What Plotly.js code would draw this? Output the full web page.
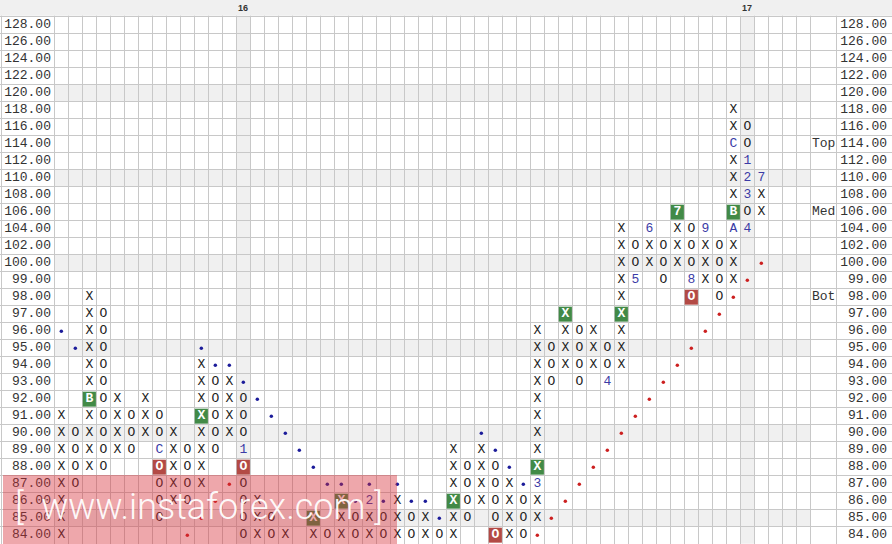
<!DOCTYPE html>
<html><head><meta charset="utf-8">
<script src="https://cdn.plot.ly/plotly-3.0.1.min.js"></script>
<style>html,body{margin:0;padding:0;background:#fff}#chart{width:892px;height:544px}</style>
</head><body><div id="chart"></div>
<script>
// ---- data ----
const rowLabels = ["128.00","126.00","124.00","122.00","120.00","118.00","116.00","114.00","112.00","110.00","108.00","106.00","104.00","102.00","100.00","99.00","98.00","97.00","96.00","95.00","94.00","93.00","92.00","91.00","90.00","89.00","88.00","87.00","86.00","85.00","84.00"];
const shadedRows = [120,110,100,95,90,85];
// column tops / bottoms (even index = X column, odd = O column)
const colTop    = [91,90,98,97,92,91,92,91,90,89,94,93,93,92,86,85,84,null,85,84,86,85,86,85,86,85,85,84,89,88,89,88,87,86,96,95,97,96,96,95,104,102,104,102,106,104,104,102,118,116,110];
const colBottom = [84,87,88,88,89,89,90,85,86,86,87,89,90,84,84,84,84,null,84,84,84,84,84,84,84,84,84,84,84,85,86,84,84,84,85,93,94,93,94,93,94,99,100,99,100,98,99,98,99,104,106];
const greenBoxes = [[2,92,"B"],[10,91,"X"],[18,85,"X"],[20,86,"X"],[28,86,"X"],[34,88,"X"],[36,97,"X"],[40,97,"X"],[44,106,"7"],[48,106,"B"]];
const redBoxes = [[7,88,"O"],[13,88,"O"],[31,84,"O"],[45,98,"O"]];
const monthMarks = [[7,89,"C"],[13,89,"1"],[22,86,"2"],[34,87,"3"],[39,93,"4"],[41,99,"5"],[42,104,"6"],[45,99,"8"],[46,104,"9"],[48,104,"A"],[48,114,"C"],[49,112,"1"],[49,110,"2"],[49,108,"3"],[49,104,"4"],[50,110,"7"]];
const blueDots = [[0,96],[1,95],[10,95],[11,94],[12,94],[13,93],[14,92],[15,91],[16,90],[17,89],[18,88],[19,87],[20,87],[21,86],[22,87],[23,86],[24,87],[25,86],[26,86],[27,85],[30,90],[31,89],[32,88],[33,87]];
const redDots = [[9,84],[10,85],[11,86],[12,87],[34,84],[35,85],[36,86],[37,87],[38,88],[39,89],[40,90],[41,91],[42,92],[43,93],[44,94],[45,95],[46,96],[47,97],[48,98],[49,99],[50,100]];
const levelLabels = [["Top",114],["Med",106],["Bot",98]];
const yearCols = [[13,"16"],[49,"17"]];
const nCols = 54;

// ---- helpers ----
const rowOf = p => rowLabels.indexOf(Number(p).toFixed(2));
const special = new Set();
[...greenBoxes, ...redBoxes, ...monthMarks].forEach(m => special.add(m[0] + "_" + rowOf(m[1])));

const xs = {X:[], O:[]}, ys = {X:[], O:[]};
colTop.forEach((top, k) => {
  if (top === null) return;
  const t = k % 2 === 0 ? "X" : "O";
  for (let r = rowOf(top); r <= rowOf(colBottom[k]); r++) {
    if (special.has(k + "_" + r)) continue;
    xs[t].push(k); ys[t].push(r);
  }
});

const mono = "Liberation Mono, Courier New, monospace";
const traces = [];
function boxTrace(list, color) {
  return {type:"bar", x:list.map(d=>d[0]), base:list.map(d=>rowOf(d[1])-0.44), y:list.map(()=>0.88),
    width:0.94, marker:{color:color, line:{width:0}}, hoverinfo:"skip", showlegend:false};
}
traces.push(boxTrace(greenBoxes, "#428a47"));
traces.push(boxTrace(redBoxes, "#b34a45"));
["X","O"].forEach(t => traces.push({type:"scatter", mode:"text", x:xs[t], y:ys[t], text:xs[t].map(()=>t),
  textfont:{family:mono, size:13, color:"#222"}, hoverinfo:"skip", showlegend:false}));
const boxLetters = [...greenBoxes, ...redBoxes];
traces.push({type:"scatter", mode:"text", x:boxLetters.map(d=>d[0]), y:boxLetters.map(d=>rowOf(d[1])), text:boxLetters.map(d=>"<b>"+d[2]+"</b>"),
  textfont:{family:mono, size:13, color:"#fff"}, hoverinfo:"skip", showlegend:false});
traces.push({type:"scatter", mode:"text", x:monthMarks.map(d=>d[0]), y:monthMarks.map(d=>rowOf(d[1])), text:monthMarks.map(d=>d[2]),
  textfont:{family:mono, size:13, color:"#3b3ba6"}, hoverinfo:"skip", showlegend:false});
traces.push({type:"scatter", mode:"markers", x:blueDots.map(d=>d[0]), y:blueDots.map(d=>rowOf(d[1])),
  marker:{size:3.5, color:"#1c1c9a"}, hoverinfo:"skip", showlegend:false});
traces.push({type:"scatter", mode:"markers", x:redDots.map(d=>d[0]), y:redDots.map(d=>rowOf(d[1])),
  marker:{size:3.5, color:"#cc2020"}, hoverinfo:"skip", showlegend:false});
// price labels left and right
const rIdx = rowLabels.map((_, i) => i);
traces.push({type:"scatter", mode:"text", x:rIdx.map(()=>-0.74), y:rIdx, text:rowLabels, textposition:"middle left",
  textfont:{family:mono, size:13, color:"#333"}, hoverinfo:"skip", showlegend:false});
traces.push({type:"scatter", mode:"text", x:rIdx.map(()=>58.98), y:rIdx, text:rowLabels, textposition:"middle left",
  textfont:{family:mono, size:13, color:"#333"}, hoverinfo:"skip", showlegend:false});
traces.push({type:"scatter", mode:"text", x:levelLabels.map(()=>53.62), y:levelLabels.map(d=>rowOf(d[1])), text:levelLabels.map(d=>d[0]), textposition:"middle right",
  textfont:{family:mono, size:13, color:"#333"}, hoverinfo:"skip", showlegend:false});

// ---- layout ----
const shapes = [];
shadedRows.forEach(p => { const r = rowOf(p);
  shapes.push({type:"rect", xref:"x", yref:"y", x0:-0.5, x1:nCols-0.5, y0:r-0.5, y1:r+0.5, fillcolor:"#f0f0f0", line:{width:0}, layer:"below"}); });
yearCols.forEach(c => shapes.push({type:"rect", xref:"x", yref:"y", x0:c[0]-0.5, x1:c[0]+0.5, y0:-0.5, y1:rowLabels.length-0.5, fillcolor:"#f0f0f0", line:{width:0}, layer:"below"}));
shapes.push({type:"rect", xref:"paper", yref:"y", x0:0, x1:1, y0:-0.55, y1:-2, fillcolor:"#f0f0f0", line:{width:0}, layer:"above"});
shapes.push({type:"rect", xref:"paper", yref:"paper", x0:3/892, x1:397/892, y0:0, y1:(544-475)/544, fillcolor:"rgba(215,45,55,0.42)", line:{width:0}, layer:"above"});

const xGrid = [-4.307];
for (let k = 0; k <= nCols; k++) xGrid.push(k - 0.5);
xGrid.push(55.386);
const yGrid = [];
for (let r = 0; r <= rowLabels.length; r++) yGrid.push(r - 0.5);

const annotations = yearCols.map(c => ({x:c[0], y:-1.0, xref:"x", yref:"y", text:"<b>"+c[1]+"</b>", showarrow:false,
  font:{family:"Liberation Sans, Arial", size:9, color:"#333"}}));
annotations.push({xref:"paper", yref:"paper", x:199/892, y:(544-507)/544, xanchor:"center", yanchor:"middle", text:"[  www.instaforex.com ]", showarrow:false,
  font:{family:"Roboto, Open Sans, sans-serif", size:36, weight:300, color:"rgba(255,255,255,0.95)"}});

const layout = {
  width:892, height:544, margin:{l:0,r:0,t:0,b:0}, paper_bgcolor:"#fff", plot_bgcolor:"#fff",
  barmode:"overlay", showlegend:false, shapes:shapes, annotations:annotations,
  xaxis:{range:[-4.381, 59.334], tickmode:"array", tickvals:xGrid, showticklabels:false, ticks:"", showgrid:true, gridcolor:"#c8c8c8", gridwidth:1, zeroline:false, showline:false, fixedrange:true},
  yaxis:{range:[30.5194, -1.4806], tickmode:"array", tickvals:yGrid, showticklabels:false, ticks:"", showgrid:true, gridcolor:"#c8c8c8", gridwidth:1, zeroline:false, showline:false, fixedrange:true}
};
Plotly.newPlot("chart", traces, layout, {staticPlot:true, displayModeBar:false});
</script></body></html>
